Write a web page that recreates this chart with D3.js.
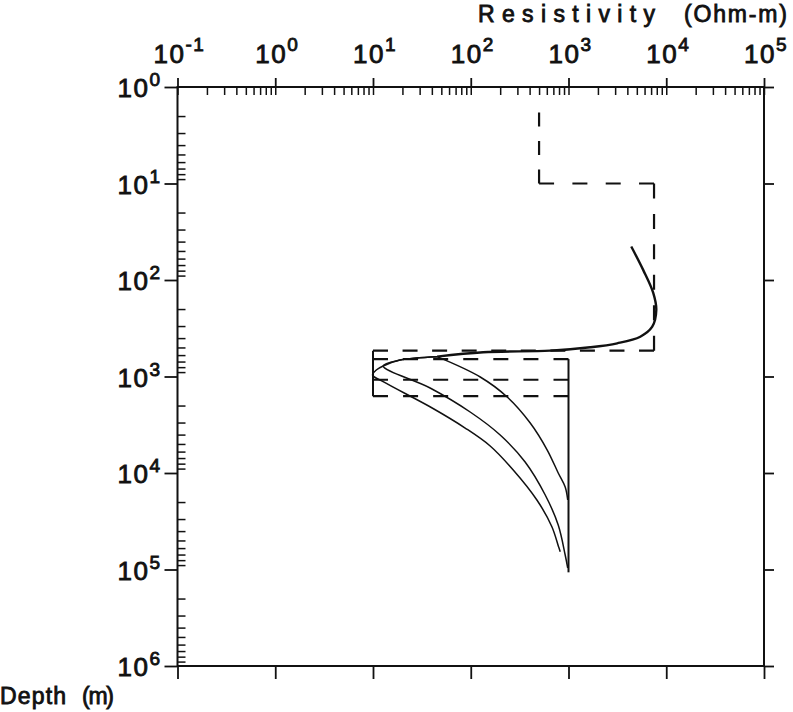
<!DOCTYPE html>
<html>
<head>
<meta charset="utf-8">
<script src="https://cdn.jsdelivr.net/npm/d3@7"></script>
<style>
  html, body { margin: 0; padding: 0; background: #fff; }
  svg text {
    font-family: "Liberation Sans", Arial, Helvetica, sans-serif;
    fill: #111; stroke: #111; stroke-width: 0.85px; font-weight: normal;
  }
</style>
</head>
<body>
<svg id="chart" width="793" height="712"></svg>
<script>
// Layered resistivity models (dashed) and their responses (solid), plotted against depth.

// Axis decades
const rhoDecades = [-1, 0, 1, 2, 3, 4, 5];
const depthDecades = [0, 1, 2, 3, 4, 5, 6];

// Layered model: surface layer, resistive layer, conductor, basement (Ohm-m)
const modelRho = [500, 7500, 10, 1000];
// Interface depths shared by all models (m)
const modelInterfaces = [10, 540];
// Base of the conductor for the three model variants (m)
const conductorBases = [660, 1080, 1600];
// Depth where the basement line stops (m)
const basementEnd = 107000;

// Common upper part of the response curves
const commonDepth = [45, 79, 136, 205, 305, 387, 453, 498, 540, 561, 623];
const commonRho = [4385, 5820, 7360, 7910, 7190, 5420, 3150, 1667, 649, 134, 45.3];

// Response for the thinnest conductor
const curveADepth = [623, 1012, 1631, 3034, 5780, 10000, 13970, 19050];
const curveARho = [45.3, 125, 236, 406, 606, 785, 925, 982];

// Response for the intermediate conductor
const curveBDepth = [623, 675, 778, 1316, 2333, 4037, 7690, 16900, 34600, 70800, 96500];
const curveBRho = [45.3, 18.9, 12.7, 38.4, 98.6, 200, 360, 578, 785, 925, 982];

// Response for the thickest conductor
const curveCDepth = [623, 675, 778, 857, 965, 1132, 2120, 3420, 5250, 9310, 19050, 36000, 58000, 65500];
const curveCRho = [45.3, 18.9, 12.7, 10.8, 9.9, 12.7, 40.3, 87.7, 158, 272, 475, 676, 791, 823];

const svg = d3.select("#chart");
const ink = "#111";

const x = d3.scaleLog().domain([0.1, 1e5]).range([177.5, 764]);
const y = d3.scaleLog().domain([1, 1e6]).range([87, 666]);
const [x0, x1] = x.range();
const [y0, y1] = y.range();

const decadeVals = a => a.map(e => Math.pow(10, e));
const minorVals = (lo, hi) => {
  const out = [];
  for (let e = lo; e < hi; e++) for (let m = 2; m <= 9; m++) out.push(m * Math.pow(10, e));
  return out;
};

function styleAxis(g, w) {
  g.select(".domain").remove();
  g.selectAll("line").attr("stroke", ink).attr("stroke-width", w);
}

// Frame
svg.append("rect")
  .attr("x", x0).attr("y", y0)
  .attr("width", x1 - x0).attr("height", y1 - y0)
  .attr("fill", "none").attr("stroke", ink).attr("stroke-width", 2);

// Top axis: decades outward, all ticks inward
svg.append("g").attr("transform", `translate(0,${y0})`)
  .call(d3.axisTop(x).tickValues(decadeVals(rhoDecades)).tickSize(9).tickFormat(""))
  .call(g => styleAxis(g, 1.8));
svg.append("g").attr("transform", `translate(0,${y0})`)
  .call(d3.axisBottom(x).tickValues(minorVals(-1, 5).concat(decadeVals(rhoDecades)))
    .tickSize(8).tickFormat(""))
  .call(g => styleAxis(g, 1.5));

// Left axis
svg.append("g").attr("transform", `translate(${x0},0)`)
  .call(d3.axisLeft(y).tickValues(decadeVals(depthDecades)).tickSize(13).tickFormat(""))
  .call(g => styleAxis(g, 1.8));
svg.append("g").attr("transform", `translate(${x0},0)`)
  .call(d3.axisRight(y).tickValues(minorVals(0, 6)).tickSize(8).tickFormat(""))
  .call(g => styleAxis(g, 1.5));

// Right and bottom axes: decades only
svg.append("g").attr("transform", `translate(${x1},0)`)
  .call(d3.axisRight(y).tickValues(decadeVals(depthDecades)).tickSize(10).tickFormat(""))
  .call(g => styleAxis(g, 1.8));
svg.append("g").attr("transform", `translate(0,${y1})`)
  .call(d3.axisBottom(x).tickValues(decadeVals(rhoDecades)).tickSize(13).tickFormat(""))
  .call(g => styleAxis(g, 1.8));

// Power-of-ten labels
function powLabel(sel, exp, rise) {
  sel.append("tspan").text("10");
  sel.append("tspan").attr("dy", -rise).attr("font-size", 19).text(String(exp));
}
rhoDecades.forEach(e => {
  svg.append("text")
    .attr("x", x(Math.pow(10, e)) + 2).attr("y", y0 - 24)
    .attr("text-anchor", "middle").attr("font-size", 26).attr("letter-spacing", 1.5)
    .call(powLabel, e, 12);
});
depthDecades.forEach(e => {
  svg.append("text")
    .attr("x", x0 - 16).attr("y", y(Math.pow(10, e)) + 10)
    .attr("text-anchor", "end").attr("font-size", 26).attr("letter-spacing", 1.5)
    .call(powLabel, e, 11);
});

// Axis titles
function title(txt, xPos, yPos, len) {
  svg.append("text").attr("x", xPos).attr("y", yPos)
    .attr("font-size", 23)
    .attr("textLength", len).attr("lengthAdjust", "spacing")
    .text(txt);
}
title("Resistivity", 478, 22, 177);
title("(Ohm-m)", 684, 22, 103);
title("Depth", 0, 704, 66);
title("(m)", 82, 704, 32);

// Dashed segments laid out so that each one begins and ends on a dash
const dashLen = 15, gapLen = 14.5;
function dashedSegment(a, b) {
  const p = [x(a[0]), y(a[1])], q = [x(b[0]), y(b[1])];
  const L = Math.hypot(q[0] - p[0], q[1] - p[1]);
  const n = Math.max(1, Math.round((L + gapLen) / (dashLen + gapLen)));
  const g = n > 1 ? (L - n * dashLen) / (n - 1) : 0;
  svg.append("line")
    .attr("x1", p[0]).attr("y1", p[1]).attr("x2", q[0]).attr("y2", q[1])
    .attr("stroke", ink).attr("stroke-width", 2.2)
    .attr("stroke-dasharray", n > 1 ? `${dashLen},${g}` : null);
}

// Surface layer: dashes run up from the first interface and stop short of the surface
{
  const px = x(modelRho[0]);
  svg.append("line")
    .attr("x1", px).attr("y1", y(modelInterfaces[0]))
    .attr("x2", px).attr("y2", y(1))
    .attr("stroke", ink).attr("stroke-width", 2.2)
    .attr("stroke-dasharray", `14,14.5,14,14.5,14,200`);
}
dashedSegment([modelRho[0], modelInterfaces[0]], [modelRho[1], modelInterfaces[0]]);
dashedSegment([modelRho[1], modelInterfaces[0]], [modelRho[1], modelInterfaces[1]]);
dashedSegment([modelRho[1], modelInterfaces[1]], [modelRho[2], modelInterfaces[1]]);
conductorBases.forEach(b => dashedSegment([modelRho[2], b], [modelRho[3], b]));

// Conductor edge and basement
const lin = d3.line().x(d => x(d[0])).y(d => y(d[1]));
svg.append("path")
  .attr("d", lin([[modelRho[2], modelInterfaces[1]], [modelRho[2], d3.max(conductorBases)]]))
  .attr("fill", "none").attr("stroke", ink).attr("stroke-width", 2);
svg.append("path")
  .attr("d", lin([[modelRho[3], d3.min(conductorBases)], [modelRho[3], basementEnd]]))
  .attr("fill", "none").attr("stroke", ink).attr("stroke-width", 2);

// Response curves
const smooth = d3.line().x(d => x(d[0])).y(d => y(d[1])).curve(d3.curveCatmullRom.alpha(0.5));
const pair = (rho, dep) => rho.map((r, i) => [r, dep[i]]);
[[curveCRho, curveCDepth], [curveBRho, curveBDepth], [curveARho, curveADepth]].forEach(([r, d]) => {
  svg.append("path").attr("d", smooth(pair(r, d)))
    .attr("fill", "none").attr("stroke", ink).attr("stroke-width", 1.5);
});
svg.append("path").attr("d", smooth(pair(commonRho, commonDepth)))
  .attr("fill", "none").attr("stroke", ink).attr("stroke-width", 2.4);
</script>
</body>
</html>
